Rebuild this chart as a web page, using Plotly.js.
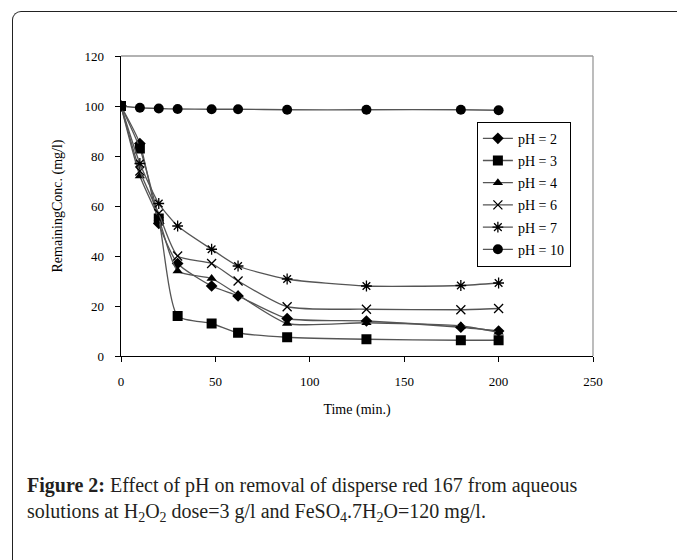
<!DOCTYPE html>
<html>
<head>
<meta charset="utf-8">
<script src="https://cdn.plot.ly/plotly-3.0.1.min.js"></script>
<style>
html,body{margin:0;padding:0;background:#fff;overflow:hidden;}
#wrap{position:relative;width:677px;height:560px;}
#chart{position:absolute;left:0;top:0;width:677px;height:560px;}
#frame{position:absolute;left:12px;top:11px;width:700px;height:600px;border-left:1.5px solid #222;border-top:1.5px solid #222;border-top-left-radius:9px;pointer-events:none;}
</style>
</head>
<body>
<div id="wrap"><div id="chart"></div><div id="frame"></div></div>
<script>
var timeMin = [0, 10, 20, 30, 48, 62, 88, 130, 180, 200];
var seriesNames = ['pH = 2', 'pH = 3', 'pH = 4', 'pH = 6', 'pH = 7', 'pH = 10'];
var pH2  = [100, 85, 53, 37, 28, 24, 15, 14, 11.5, 10];
var pH3  = [100, 83, 55, 16, 13, 9.3, 7.5, 6.7, 6.3, 6.3];
var pH4  = [100, 72, 55, 34, 31, 24.5, 13, 13.3, 12, 9.5];
var pH6  = [100, 74, 57, 40, 37, 30, 19.7, 18.7, 18.5, 19];
var pH7  = [100, 77, 61, 52, 42.7, 36, 30.8, 28, 28.2, 29.2];
var pH10 = [100, 99.3, 99, 98.8, 98.7, 98.7, 98.5, 98.5, 98.5, 98.3];
var xTicks = [0, 50, 100, 150, 200, 250];
var yTicks = [0, 20, 40, 60, 80, 100, 120];

var allY = [pH2, pH3, pH4, pH6, pH7, pH10];
var symbols = ['diamond', 'square', 'triangle-up', 'x-thin-open', 'asterisk-open', 'circle'];
var sizes = [9, 10, 9, 9, 9, 10];

var traces = allY.map(function(y, i){
  return {
    x: timeMin, y: y, name: seriesNames[i], type: 'scatter', mode: 'lines+markers',
    legendgroup: 'g' + i,
    line: {color: '#555', width: 1.3, shape: 'spline', smoothing: 0.6},
    marker: {symbol: symbols[i], size: sizes[i], color: '#000',
             line: {color: '#000', width: (symbols[i].indexOf('open') >= 0 ? 1.3 : 0)}}
  };
});

var serif = 'Liberation Serif, Times New Roman, serif';
var layout = {
  width: 677, height: 560,
  margin: {l: 121, r: 84, t: 56, b: 204},
  paper_bgcolor: '#fff', plot_bgcolor: '#fff',
  showlegend: true,
  font: {family: serif, size: 13, color: '#000'},
  xaxis: {
    range: [0, 250], tickvals: xTicks, ticktext: xTicks.map(String),
    showgrid: false, zeroline: false, showline: true, linecolor: '#000', linewidth: 1.3,
    ticks: 'outside', ticklen: 5, tickcolor: '#000', ticklabelstandoff: 8,
    tickfont: {family: serif, size: 13},
    title: {text: 'Time (min.)', font: {family: serif, size: 14}, standoff: 16}
  },
  yaxis: {
    range: [0, 120], tickvals: yTicks, ticktext: yTicks.map(String),
    showgrid: false, zeroline: false, showline: true, linecolor: '#000', linewidth: 1.3,
    ticks: 'outside', ticklen: 5, tickcolor: '#000', ticklabelstandoff: 8,
    tickfont: {family: serif, size: 13},
    title: {text: 'RemainingConc. (mg/l)', font: {family: serif, size: 14}, standoff: 18}
  },
  shapes: [
    {type: 'line', xref: 'paper', yref: 'paper', x0: 0, x1: 1, y0: 1, y1: 1, line: {color: '#999', width: 1.3}},
    {type: 'line', xref: 'paper', yref: 'paper', x0: 1, x1: 1, y0: 0, y1: 1, line: {color: '#999', width: 1.3}}
  ],
  legend: {
    x: 0.754, y: 0.781, xanchor: 'left', yanchor: 'top',
    bgcolor: '#fff', bordercolor: '#000', borderwidth: 1,
    font: {family: serif, size: 14, color: '#000'},
    traceorder: 'grouped', tracegroupgap: 1, itemwidth: 30
  },
  annotations: [
    {xref: 'paper', yref: 'paper', x: (25 - 121) / 472, y: (356 - 499) / 300, xanchor: 'left', yanchor: 'middle',
     align: 'left', showarrow: false,
     text: '<b>Figure 2:</b> Effect of pH on removal of disperse red 167 from aqueous<br>' +
           'solutions at H<sub>2</sub>O<sub>2</sub> dose=3 g/l and FeSO<sub>4</sub>.7H<sub>2</sub>O=120 mg/l.',
     font: {family: serif, size: 20, color: '#231f20'}}
  ]
};

Plotly.newPlot('chart', traces, layout, {displayModeBar: false, staticPlot: true});
</script>
</body>
</html>
